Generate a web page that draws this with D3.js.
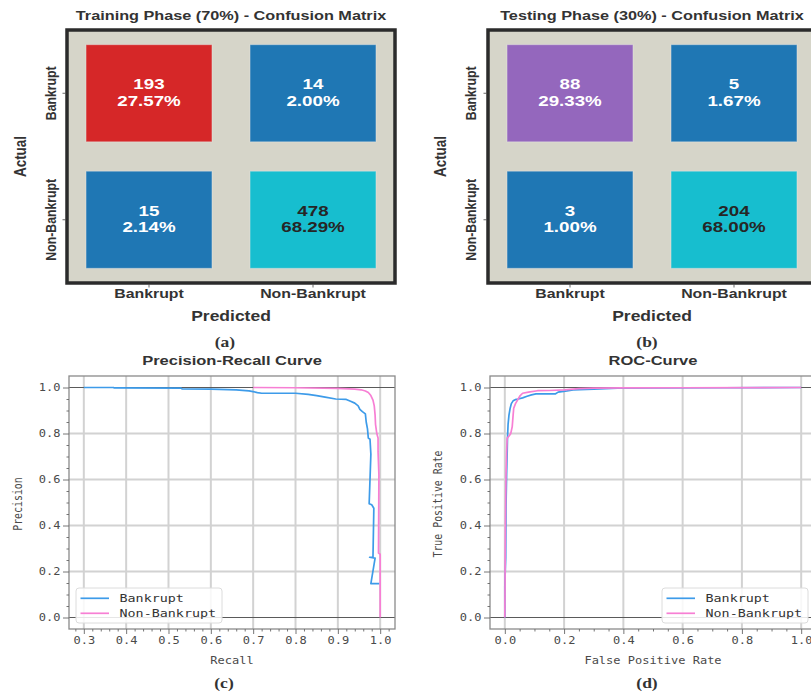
<!DOCTYPE html>
<html><head><meta charset="utf-8">
<script src="https://cdn.jsdelivr.net/npm/d3@7"></script>
<style>
html,body{margin:0;padding:0;background:#fff;}
svg{display:block;}
</style></head>
<body>
<svg id="chart" width="811" height="691"></svg>
<script>
// ---------------- DATA ----------------
const classes = ["Bankrupt", "Non-Bankrupt"];
const trainCounts = [[193, 14], [15, 478]];
const testCounts = [[88, 5], [3, 204]];
const trainColors = [["#d62728", "#1f77b4"], ["#1f77b4", "#17becf"]];
const testColors = [["#9467bd", "#1f77b4"], ["#1f77b4", "#17becf"]];
const trainTitle = "Training Phase (70%) - Confusion Matrix";
const testTitle = "Testing Phase (30%) - Confusion Matrix";

const prBankruptRecall = [0.300,0.370,0.372,0.530,0.532,0.600,0.660,0.690,0.700,0.710,0.720,0.800,0.830,0.850,0.870,0.895,0.920,0.930,0.940,0.948,0.952,0.958,0.965,0.967,0.970,0.972,0.976,0.978,0.974,0.980,0.985,0.983,0.975,0.988,0.978,0.998];
const prBankruptPrecision = [1.000,1.000,0.998,0.997,0.994,0.993,0.990,0.985,0.982,0.978,0.975,0.975,0.970,0.965,0.958,0.950,0.948,0.940,0.932,0.920,0.905,0.895,0.885,0.850,0.820,0.780,0.775,0.710,0.495,0.490,0.475,0.262,0.262,0.258,0.147,0.147];
const prNonRecall = [0.700,0.800,0.900,0.940,0.955,0.965,0.972,0.978,0.983,0.986,0.988,0.989,0.992,0.995,0.995,0.997,0.996,1.000,1.000];
const prNonPrecision = [1.000,0.999,0.996,0.993,0.990,0.985,0.978,0.965,0.945,0.920,0.880,0.840,0.800,0.780,0.720,0.620,0.280,0.275,0.000];

const rocBankruptFpr = [0.000,0.000,0.003,0.004,0.006,0.008,0.009,0.011,0.014,0.018,0.022,0.028,0.035,0.045,0.060,0.075,0.090,0.105,0.170,0.180,0.210,0.230,0.300,0.380,0.500,0.740,1.000];
const rocBankruptTpr = [0.000,0.140,0.260,0.480,0.620,0.720,0.780,0.840,0.880,0.910,0.930,0.942,0.947,0.950,0.955,0.962,0.968,0.972,0.972,0.980,0.985,0.990,0.993,0.997,0.998,0.999,1.000];
const rocNonFpr = [0.000,0.002,0.004,0.006,0.008,0.015,0.020,0.025,0.028,0.030,0.036,0.045,0.052,0.060,0.080,0.110,0.150,0.200,0.250,0.300,0.400,0.600,1.000];
const rocNonTpr = [0.000,0.400,0.620,0.720,0.780,0.790,0.800,0.830,0.880,0.910,0.930,0.950,0.965,0.975,0.980,0.986,0.987,0.990,0.995,0.997,0.998,0.999,1.000];

const prXTicks = [0.3,0.4,0.5,0.6,0.7,0.8,0.9,1.0];
const rocXTicks = [0.0,0.2,0.4,0.6,0.8,1.0];
const yTicks = [0.0,0.2,0.4,0.6,0.8,1.0];
const seriesNames = ["Bankrupt", "Non-Bankrupt"];
const seriesColors = ["#3d9be9", "#f77fd4"];

// ---------------- HELPERS ----------------
const SX = 1.25; // horizontal stretch of the original picture
const svg = d3.select("#chart");
const SANS = "'Liberation Sans', Arial, sans-serif";
const MONO = "'DejaVu Sans Mono', monospace";
const SERIF = "'Liberation Serif', 'Times New Roman', serif";

function label(x, y, str, o) {
  o = o || {};
  const g = svg.append("g").attr("transform",
    `translate(${x},${y}) scale(${SX},1)` + (o.rotate ? " rotate(-90)" : ""));
  g.append("text")
    .attr("text-anchor", o.anchor || "middle")
    .attr("dominant-baseline", "central")
    .style("font-family", o.family || SANS)
    .style("font-weight", o.weight || "bold")
    .style("font-size", (o.size || 12) + "px")
    .attr("fill", o.color || "#333")
    .text(str);
  return g;
}

// ---------------- CONFUSION MATRICES ----------------
function matrix(x0, x1, counts, colors, title, tag, xActual, xYTick) {
  const y0 = 30, y1 = 283;
  const total = d3.sum(counts.flat());
  const xs = d3.scaleBand().domain(classes).range([x0, x1]).paddingInner(0.232).paddingOuter(0.116);
  const ys = d3.scaleBand().domain(classes).range([y0, y1]).paddingInner(0.232).paddingOuter(0.116);
  const g = svg.append("g");
  g.append("rect").attr("x", x0).attr("y", y0).attr("width", x1 - x0).attr("height", y1 - y0)
    .attr("fill", "#d6d5c9");
  classes.forEach((actual, i) => classes.forEach((pred, j) => {
    g.append("rect").attr("x", xs(pred)).attr("y", ys(actual))
      .attr("width", xs.bandwidth()).attr("height", ys.bandwidth())
      .attr("fill", colors[i][j]).attr("stroke", "#e8e8e8").attr("stroke-opacity", 0.45).attr("stroke-width", 1);
  }));
  g.append("rect").attr("x", x0).attr("y", y0).attr("width", x1 - x0).attr("height", y1 - y0)
    .attr("fill", "none").attr("stroke", "#2b2b2b").attr("stroke-width", 3.5);
  const ax = svg.append("g").attr("transform", `translate(0,${y1 + 1.5})`)
    .call(d3.axisBottom(xs).tickSize(3).tickFormat(""));
  const ay = svg.append("g").attr("transform", `translate(${x0 - 1.5},0)`)
    .call(d3.axisLeft(ys).tickSize(3).tickFormat(""));
  [ax, ay].forEach(a => { a.select(".domain").remove(); a.selectAll("line").attr("stroke", "#444").attr("stroke-width", 0.8); });
  classes.forEach(c => {
    label(xs(c) + xs.bandwidth() / 2, 294, c, { size: 12.7 });
    label(xYTick, ys(c) + ys.bandwidth() / 2, c, { size: 12.3, rotate: true });
  });
  classes.forEach((actual, i) => classes.forEach((pred, j) => {
    const cx = xs(pred) + xs.bandwidth() / 2, cy = ys(actual) + ys.bandwidth() / 2;
    const col = colors[i][j] === "#17becf" ? "#262626" : "#ffffff";
    label(cx, cy - 9, String(counts[i][j]), { size: 15, color: col });
    label(cx, cy + 7.5, (counts[i][j] / total * 100).toFixed(2) + "%", { size: 15, color: col });
  }));
  label((x0 + x1) / 2, 16, title, { size: 13 });
  label((x0 + x1) / 2, 316, "Predicted", { size: 14 });
  label(xActual, (y0 + y1) / 2, "Actual", { size: 13.5, rotate: true });
  label(tag.x, 342, tag.t, { size: 14, family: SERIF });
}
matrix(67, 395, trainCounts, trainColors, trainTitle, { x: 225, t: "(a)" }, 20, 50);
matrix(488, 816, testCounts, testColors, testTitle, { x: 647, t: "(b)" }, 440, 470);

// ---------------- CURVES ----------------
function curvePanel(o) {
  const top = 376, bottom = 629;
  const x = d3.scaleLinear().domain(o.xDomain).range([o.x0, o.x1]);
  const y = d3.scaleLinear().domain([-0.05, 1.05]).range([bottom, top]);
  const g = svg.append("g");
  g.append("rect").attr("x", o.x0).attr("y", top).attr("width", o.x1 - o.x0).attr("height", bottom - top).attr("fill", "#fff");
  o.xTicks.forEach(t => g.append("line").attr("x1", x(t)).attr("x2", x(t)).attr("y1", top).attr("y2", bottom)
    .attr("stroke", "#d2d2d2").attr("stroke-width", 2));
  yTicks.forEach(t => {
    const edge = (t === 0 || t === 1);
    g.append("line").attr("x1", o.x0).attr("x2", o.x1).attr("y1", y(t)).attr("y2", y(t))
      .attr("stroke", edge ? "#5a5a5a" : "#d2d2d2").attr("stroke-width", edge ? 1 : 2);
  });
  const minorY = [];
  for (let i = 0; i <= 20; i++) if (i % 4 !== 0) minorY.push(i * 0.05);
  const ax = svg.append("g").attr("transform", `translate(0,${bottom})`)
    .call(d3.axisBottom(x).tickValues(o.minorX).tickSize(2.5).tickFormat(""));
  const axM = svg.append("g").attr("transform", `translate(0,${bottom})`)
    .call(d3.axisBottom(x).tickValues(o.xTicks).tickSize(5).tickPadding(4).tickFormat(d3.format(".1f")));
  const ay = svg.append("g").attr("transform", `translate(${o.x0},0)`)
    .call(d3.axisLeft(y).tickValues(minorY).tickSize(2.5).tickFormat(""));
  const ayM = svg.append("g").attr("transform", `translate(${o.x0},0)`)
    .call(d3.axisLeft(y).tickValues(yTicks).tickSize(6).tickPadding(3).tickFormat(d3.format(".1f")));
  [ax, axM, ay, ayM].forEach(a => {
    a.select(".domain").remove();
    a.selectAll("line").attr("stroke", "#666").attr("stroke-width", 0.9);
    a.selectAll("text").style("font-family", MONO).style("font-size", "9.6px").attr("fill", "#4a4a4a");
  });
  axM.selectAll("text").attr("y", 8).attr("dy", "0.71em").attr("transform", `scale(${SX},1)`);
  ayM.selectAll("text").attr("x", -8.5 / SX).attr("transform", `scale(${SX},1)`);
  g.append("rect").attr("x", o.x0).attr("y", top).attr("width", o.x1 - o.x0).attr("height", bottom - top)
    .attr("fill", "none").attr("stroke", "#8a8a8a").attr("stroke-width", 1.3);
  const line = d3.line().x(d => x(d[0])).y(d => y(d[1]));
  o.series.forEach((s, k) => {
    svg.append("path").datum(d3.zip(s[0], s[1])).attr("d", line)
      .attr("fill", "none").attr("stroke", seriesColors[k]).attr("stroke-width", 1.7).attr("stroke-linejoin", "round");
  });
  const lg = svg.append("g");
  lg.append("rect").attr("x", o.lx).attr("y", 588).attr("width", 146).attr("height", 35).attr("rx", 3)
    .attr("fill", "#fff").attr("fill-opacity", 0.85).attr("stroke", "#dcdcdc").attr("stroke-width", 1);
  seriesNames.forEach((n, k) => {
    const yy = 598.3 + k * 15;
    lg.append("line").attr("x1", o.lx + 4.5).attr("x2", o.lx + 33).attr("y1", yy).attr("y2", yy)
      .attr("stroke", seriesColors[k]).attr("stroke-width", 1.7);
  });
  seriesNames.forEach((n, k) => {
    label(o.lx + 43.5, 598.3 + k * 15, n, { size: 10.7, family: MONO, weight: "normal", anchor: "start", color: "#333" });
  });
  const cx = (o.x0 + o.x1) / 2;
  label(cx, 360, o.title, { size: 13.2 });
  label(cx, 661, o.xLabel, { size: 9.6, family: MONO, weight: "normal", color: "#4a4a4a" });
  label(o.yLabelX, 504, o.yLabel, { size: 9.9, family: MONO, weight: "normal", color: "#4a4a4a", rotate: true });
  label(o.tagX, 683, o.tag, { size: 14, family: SERIF });
}

const prMinor = [];
for (let i = 14; i <= 51; i++) if (i % 5 !== 0) prMinor.push(i * 0.02);
const rocMinor = [];
for (let i = 0; i <= 20; i++) if (i % 4 !== 0) rocMinor.push(i * 0.05);

curvePanel({
  x0: 69, x1: 395, xDomain: [0.265, 1.035], xTicks: prXTicks, minorX: prMinor,
  series: [[prBankruptRecall, prBankruptPrecision], [prNonRecall, prNonPrecision]],
  title: "Precision-Recall Curve", xLabel: "Recall", yLabel: "Precision", yLabelX: 18,
  lx: 76, tag: "(c)", tagX: 224
});
curvePanel({
  x0: 490, x1: 816, xDomain: [-0.05, 1.05], xTicks: rocXTicks, minorX: rocMinor,
  series: [[rocBankruptFpr, rocBankruptTpr], [rocNonFpr, rocNonTpr]],
  title: "ROC-Curve", xLabel: "False Positive Rate", yLabel: "True Positive Rate", yLabelX: 438,
  lx: 662, tag: "(d)", tagX: 647
});
</script>
</body></html>
